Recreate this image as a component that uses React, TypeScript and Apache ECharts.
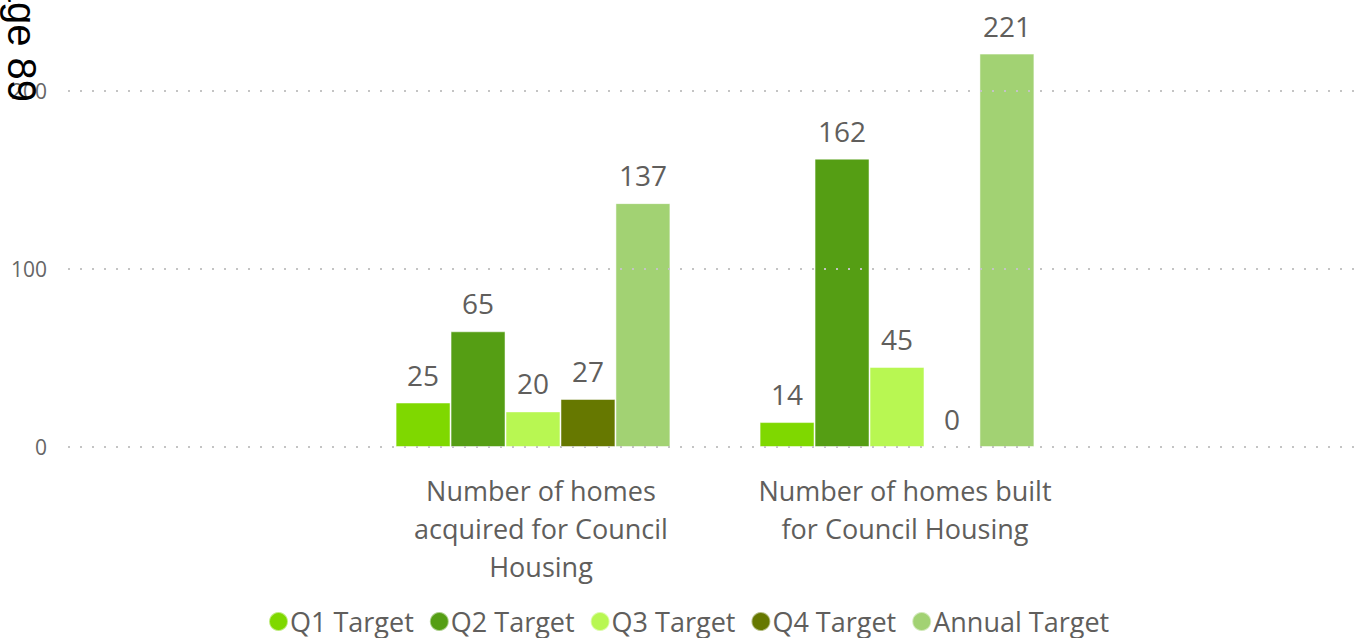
import React, { useEffect, useRef } from "react";
import * as echarts from "echarts";

const categories = [
  "Number of homes\nacquired for Council\nHousing",
  "Number of homes built\nfor Council Housing",
];
const seriesNames = ["Q1 Target", "Q2 Target", "Q3 Target", "Q4 Target", "Annual Target"];
const q1Target = [25, 14];
const q2Target = [65, 162];
const q3Target = [20, 45];
const q4Target = [27, 0];
const annualTarget = [137, 221];
const seriesColors = ["#7fd800", "#559e14", "#b8f752", "#667800", "#a2d273"];
const yTicks = [0, 100, 200];

const FONT = "'Open Sans', 'Noto Sans', sans-serif";
const TEXT_COLOR = "#605e5c";

export default function App() {
  const ref = useRef<HTMLDivElement>(null);
  useEffect(() => {
    if (!ref.current) return;
    const chart = echarts.init(ref.current, undefined, { renderer: "svg" });
    const values = [q1Target, q2Target, q3Target, q4Target, annualTarget];
    const yMax = 250;
    const gridTop = 2;
    const gridBottom = 191;
    chart.setOption({
      animation: false,
      textStyle: { fontFamily: FONT },
      grid: [
        { left: 68, right: 5, top: gridTop, bottom: gridBottom },
        { left: 351, right: 286, top: gridTop, bottom: gridBottom },
      ],
      xAxis: [
        { type: "category", gridIndex: 0, data: ["a"], show: false },
        {
          type: "category",
          gridIndex: 1,
          data: categories,
          axisLine: { show: false },
          axisTick: { show: false },
          axisLabel: {
            interval: 0,
            hideOverlap: false,
            color: TEXT_COLOR,
            fontSize: 27,
            lineHeight: 38,
            margin: 24,
            fontFamily: FONT,
            padding: [0, 0, 0, 16],
          },
        },
      ],
      yAxis: [
        {
          type: "value",
          gridIndex: 0,
          min: 0,
          max: yMax,
          interval: 50,
          axisLine: { show: false },
          axisTick: { show: false },
          axisLabel: {
            color: "#666666",
            fontSize: 21,
            margin: 21,
            fontFamily: FONT,
            formatter: (v: number) => (yTicks.includes(v) ? String(v) : ""),
          },
          splitLine: { show: false },
        },
        {
          type: "value",
          gridIndex: 1,
          min: 0,
          max: yMax,
          interval: 50,
          show: false,
          splitLine: { show: false },
        },
      ],
      legend: {
        data: seriesNames,
        left: 263,
        top: 603,
        icon: "circle",
        itemWidth: 19,
        itemHeight: 19,
        itemGap: 15,
        textStyle: { color: TEXT_COLOR, fontSize: 27, fontFamily: FONT, padding: [0, 0, 0, -3] },
      },
      series: [
        {
          name: "gridlines",
          type: "bar",
          xAxisIndex: 0,
          yAxisIndex: 0,
          data: [],
          markLine: {
            silent: true,
            symbol: ["none", "none"],
            label: { show: false },
            lineStyle: { color: "#c4c4c4", width: 2, type: [2, 10] },
            data: yTicks.map((v) => ({ yAxis: v })),
          },
        },
        ...seriesNames.map((name, i) => ({
          name,
          type: "bar",
          xAxisIndex: 1,
          yAxisIndex: 1,
          data: values[i],
          barGap: "0%",
          barCategoryGap: "24.5%",
          itemStyle: { color: seriesColors[i], borderColor: "rgba(255,255,255,0.5)", borderWidth: 1 },
          label: {
            show: true,
            position: "top",
            distance: 14,
            color: TEXT_COLOR,
            fontSize: 28,
            fontFamily: FONT,
          },
        })),
      ],
      graphic: [
        {
          type: "text",
          x: 22,
          y: -47,
          rotation: -Math.PI / 2,
          z: 100,
          style: {
            text: "Page 89",
            fill: "#000000",
            fontSize: 40,
            fontFamily: "'Liberation Sans', Arial, sans-serif",
            textAlign: "left",
            textVerticalAlign: "middle",
          },
        },
      ],
    });
    return () => chart.dispose();
  }, []);
  return (
    <div
      ref={ref}
      style={{ position: "absolute", left: 0, top: 0, width: 1365, height: 638 }}
    />
  );
}
